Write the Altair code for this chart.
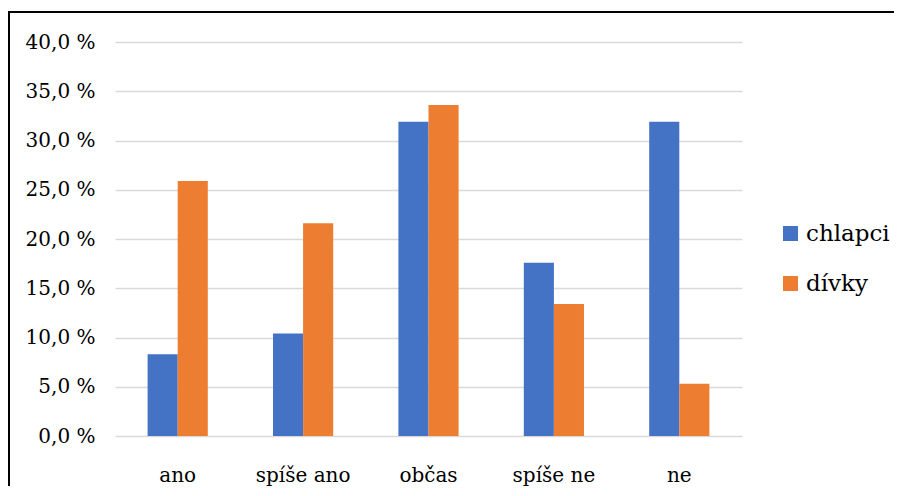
import altair as alt
import pandas as pd

categories = ["ano", "spíše ano", "občas", "spíše ne", "ne"]
chlapci = [8.3, 10.4, 31.9, 17.6, 31.9]
divky = [25.9, 21.6, 33.6, 13.4, 5.3]
series_names = ["chlapci", "dívky"]
series_colors = ["#4472C4", "#ED7D31"]

rows = []
for c, a, b in zip(categories, chlapci, divky):
    rows.append({"kategorie": c, "pohlaví": "chlapci", "hodnota": a})
    rows.append({"kategorie": c, "pohlaví": "dívky", "hodnota": b})
df = pd.DataFrame(rows)

FONT = "DejaVu Serif"

bars = alt.Chart(df).mark_bar().encode(
    x=alt.X("kategorie:N", sort=categories, title=None,
            scale=alt.Scale(paddingInner=0.52, paddingOuter=0.26),
            axis=alt.Axis(labelAngle=0, labelFontSize=20, labelFont=FONT,
                          labelColor="black", labelPadding=29, ticks=False,
                          domain=False, grid=False)),
    xOffset=alt.XOffset("pohlaví:N", sort=series_names,
                        scale=alt.Scale(paddingInner=0, paddingOuter=0)),
    y=alt.Y("hodnota:Q", title=None,
            scale=alt.Scale(domain=[0, 40], nice=False),
            axis=alt.Axis(values=[0, 5, 10, 15, 20, 25, 30, 35, 40],
                          labelExpr="replace(format(datum.value, '.1f'), '.', ',') + ' %'",
                          labelFontSize=20, labelFont=FONT, labelColor="black",
                          labelPadding=20, ticks=False, domain=False,
                          grid=True, gridColor="#D9D9D9", gridWidth=1.4)),
    color=alt.Color("pohlaví:N", sort=series_names,
                    scale=alt.Scale(domain=series_names, range=series_colors),
                    legend=alt.Legend(title=None, orient="none", legendX=664,
                                      legendY=180, symbolType="square",
                                      symbolSize=225, symbolStrokeWidth=0,
                                      labelFontSize=23, labelFont=FONT,
                                      labelColor="black", rowPadding=26,
                                      labelOffset=4)),
)

border_top = alt.Chart(df).mark_rule(color="black", strokeWidth=2).encode(
    x=alt.value(-106), x2=alt.value(800), y=alt.value(-30)
)
border_left = alt.Chart(df).mark_rule(color="black", strokeWidth=2).encode(
    x=alt.value(-106), y=alt.value(-31), y2=alt.value(500)
)

chart = alt.layer(bars, border_top, border_left).properties(
    width=627, height=394,
    autosize=alt.AutoSizeParams(type="none"),
    padding={"left": 107, "top": 34, "right": 152, "bottom": 50},
).configure(background="white", view=alt.ViewConfig(stroke=None))

chart.save("out.html", embed_options={"renderer": "svg", "actions": False})
